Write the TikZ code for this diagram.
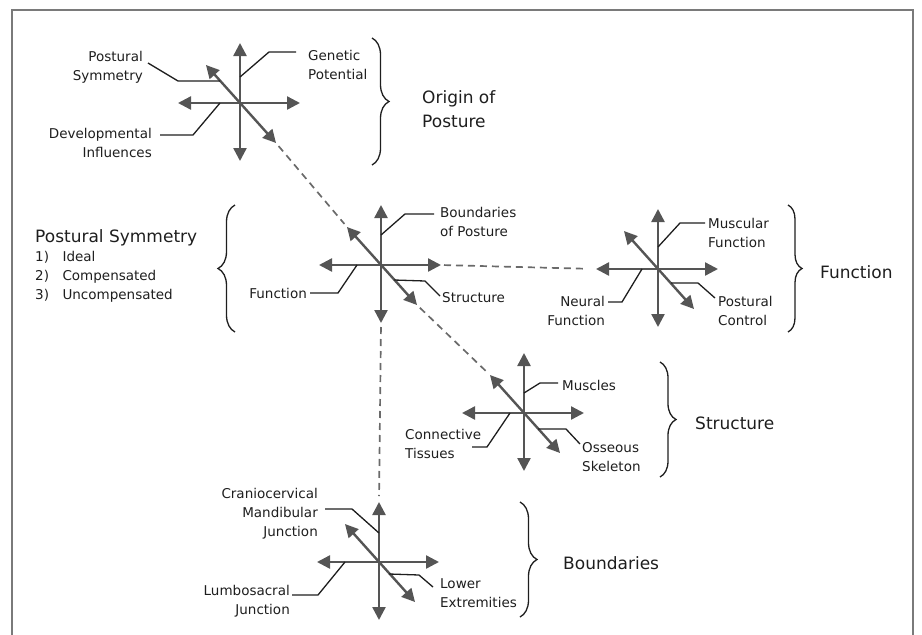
\documentclass[tikz,border=0pt]{standalone}
\usepackage{fontspec}
\setmainfont{DejaVu Sans}
\usetikzlibrary{arrows.meta,calc,decorations.pathreplacing}
\definecolor{arrowgray}{HTML}{555555}
\definecolor{linkgray}{HTML}{6A6A6A}
\definecolor{framegray}{HTML}{7A7A7A}
\definecolor{inkgray}{HTML}{1E1E1E}
\tikzset{
    axe/.style={line width=2.4pt, draw=arrowgray, {Triangle[length=13pt,width=13pt]}-{Triangle[length=13pt,width=13pt]}},
    leader/.style={line width=1.3pt, draw=inkgray},
    link/.style={line width=1.7pt, draw=linkgray, dash pattern=on 7pt off 5pt},
    lbl/.style={text=inkgray, inner sep=0pt, font=\fontsize{13.5}{19}\selectfont},
    head/.style={text=inkgray, inner sep=0pt, align=left, font=\fontsize{17}{24}\selectfont},
    accolade/.style={line width=1.3pt, draw=inkgray, decorate, decoration={brace, amplitude=#1}},
    pics/postcross/.style={code={
        \coordinate (-c) at (0,0);
        \coordinate (-n) at (0,-60);
        \coordinate (-s) at (0,58);
        \coordinate (-w) at (-62,0);
        \coordinate (-e) at (60,0);
        \coordinate (-nw) at (-34,-38);
        \coordinate (-se) at (36,40);
        \draw[axe] (-w) -- (-e);
        \draw[axe] (-n) -- (-s);
        \draw[axe] (-nw) -- (-se);
    }},
  }
\begin{document}
\begin{tikzpicture}[x=1pt,y=-1pt]
				  \useasboundingbox (0,0) rectangle (922,635);
				  %cadre
				  \draw[framegray, line width=2.5pt] (12,640) -- (12,10) -- (913,10) -- (913,640);

				  %CROSSES
				  \pic (c1) at (240,103) {postcross};
				  \pic (c2) at (381,265) {postcross};
				  \pic (c3) at (658,269) {postcross};
				  \pic (c4) at (524,413) {postcross};
				  \pic (c5) at (379,562) {postcross};

				  %LINKS
				  \draw[link, shorten <=4pt, shorten >=4pt] (c1-se) -- (c2-nw);
				  \draw[link, shorten <=4pt, shorten >=4pt] (c2-se) -- (c4-nw);
				  \draw[link, shorten <=3pt, shorten >=12pt] (c2-e) -- (c3-w);
				  \draw[link, shorten <=4pt, shorten >=6pt] (c2-s) -- (c5-n);

				  %ORIGIN OF POSTURE
				  \node[lbl, align=right, anchor=north east] (ps) at (143,51) {Postural\\Symmetry};
				  \node[lbl, align=left, anchor=north west] (gp) at (308,50) {Genetic\\Potential};
				  \node[lbl, align=right, anchor=north east] (di) at (152,128) {Developmental\\Influences};
				  \coordinate (ps1) at ($(c1-c)+(-20,-22)$);
				  \coordinate (gp1) at ($(c1-c)+(0,-26)$);
				  \coordinate (di1) at ($(c1-c)+(-20,0)$);
				  \draw[leader] ($(ps.north east)+(5,12)$) -- ++(30,18) -- (ps1);
				  \draw[leader] ($(gp.north west)+(-12,2)$) -- ++(-27,0) -- (gp1);
				  \draw[leader] ($(di.north east)+(8,7)$) -- ++(33,0) -- (di1);
				  \draw[accolade=17pt] (372,38) -- (372,165);
				  \node[head, anchor=north west] (op) at (422,90) {Origin of\\Posture};

				  %BOUNDARIES OF POSTURE
				  \node[lbl, align=left, anchor=north west] (bp) at (440,207) {Boundaries\\of Posture};
				  \node[lbl, anchor=east] (f2) at (307,293) {Function};
				  \node[lbl, anchor=west] (s2) at (442,298) {Structure};
				  \coordinate (bp1) at ($(c2-c)+(0,-30)$);
				  \coordinate (f21) at ($(c2-c)+(-24,0)$);
				  \coordinate (s21) at ($(c2-c)+(13,15)$);
				  \draw[leader] ($(bp.north west)+(-6,7)$) -- ++(-29,0) -- (bp1);
				  \draw[leader] ($(f2.east)+(3,0)$) -- ++(28,0) -- (f21);
				  \draw[leader] ($(s2.west)+(-2,-2)$) -- ++(-15,-15) -- (s21);
				  \draw[accolade=17pt] (235,332) -- (235,205);
				  \node[head, anchor=north west] (pst) at (35,229) {Postural Symmetry};
				  \node[lbl, align=left, anchor=north west] (psl) at (35,251) {1)\quad Ideal\\2)\quad Compensated\\3)\quad Uncompensated};

				  %FUNCTION
				  \node[lbl, align=left, anchor=north west] (mf) at (708,218) {Muscular\\Function};
				  \node[lbl, align=right, anchor=north east] (nf) at (605,296) {Neural\\Function};
				  \node[lbl, align=left, anchor=north west] (pcl) at (718,296) {Postural\\Control};
				  \coordinate (mf1) at ($(c3-c)+(0,-22)$);
				  \coordinate (nf1) at ($(c3-c)+(-16,0)$);
				  \coordinate (pc1) at ($(c3-c)+(13,14)$);
				  \draw[leader] ($(mf.north west)+(-3,5)$) -- ++(-25,0) -- (mf1);
				  \draw[leader] ($(nf.north east)+(3,6)$) -- ++(14,0) -- (nf1);
				  \draw[leader] ($(pcl.north west)+(-3,2)$) -- ++(-17,-15) -- (pc1);
				  \draw[accolade=14pt] (788,205) -- (788,332);
				  \node[head, anchor=west] (fn) at (820,272) {Function};

				  %STRUCTURE
				  \node[lbl, anchor=west] (mu) at (562,385) {Muscles};
				  \node[lbl, align=left, anchor=north west] (ct) at (405,429) {Connective\\Tissues};
				  \node[lbl, align=left, anchor=north west] (os) at (582,442) {Osseous\\Skeleton};
				  \coordinate (mu1) at ($(c4-c)+(0,-20)$);
				  \coordinate (ct1) at ($(c4-c)+(-14,0)$);
				  \coordinate (os1) at ($(c4-c)+(14,16)$);
				  \draw[leader] ($(mu.west)+(-4,-2)$) -- ++(-18,0) -- (mu1);
				  \draw[leader] ($(ct.north west)+(67,18)$) -- ++(15,0) -- (ct1);
				  \draw[leader] ($(os.north west)+(-2,2)$) -- ++(-14,-15) -- (os1);
				  \draw[accolade=16pt] (660,362) -- (660,477);
				  \node[head, anchor=west] (st) at (695,423) {Structure};

				  %BOUNDARIES
				  \node[lbl, align=right, anchor=north east] (cm) at (318,488) {Craniocervical\\Mandibular\\Junction};
				  \node[lbl, align=right, anchor=north east] (lj) at (290,585) {Lumbosacral\\Junction};
				  \node[lbl, align=left, anchor=north west] (le) at (440,578) {Lower\\Extremities};
				  \coordinate (cm1) at ($(c5-c)+(0,-29)$);
				  \coordinate (lj1) at ($(c5-c)+(-34,0)$);
				  \coordinate (le1) at ($(c5-c)+(10,12)$);
				  \draw[leader] ($(cm.north east)+(7,21)$) -- ++(27,0) -- (cm1);
				  \draw[leader] ($(lj.north east)+(2,10)$) -- ++(26,0) -- (lj1);
				  \draw[leader] ($(le.north west)+(-7,9)$) -- ++(-14,-12) -- (le1);
				  \draw[accolade=17pt] (520,502) -- (520,617);
				  \node[head, anchor=west] (bd) at (563,563) {Boundaries};
				  \end{tikzpicture}
\end{document}
